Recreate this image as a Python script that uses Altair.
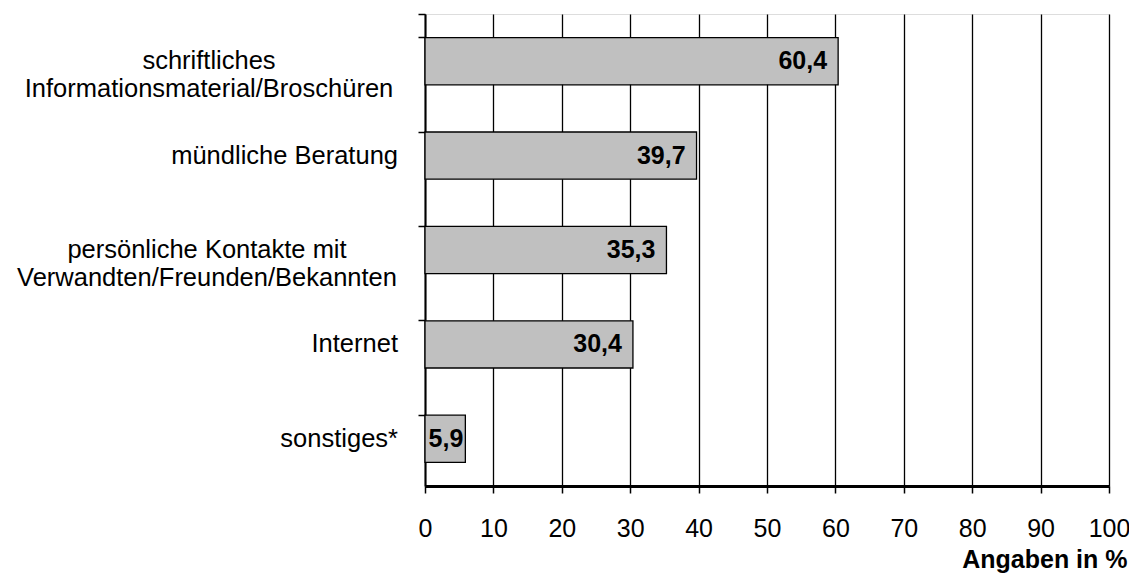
import altair as alt
import pandas as pd

categories = [
    "schriftliches\nInformationsmaterial/Broschüren",
    "mündliche Beratung",
    "persönliche Kontakte mit\nVerwandten/Freunden/Bekannten",
    "Internet",
    "sonstiges*",
]
values = [60.4, 39.7, 35.3, 30.4, 5.9]
value_labels = ["60,4", "39,7", "35,3", "30,4", "5,9"]
x_ticks = list(range(0, 101, 10))

df = pd.DataFrame({"cat": categories, "value": values, "label": value_labels})

FONT = "Liberation Sans"

y_enc = alt.Y(
    "cat:N",
    sort=categories,
    scale=alt.Scale(paddingInner=0.5, paddingOuter=0.25),
    axis=alt.Axis(
        labels=False, title=None, grid=False,
        bandPosition=0, tickExtra=True,
        ticks=True, tickSize=7, tickColor="black", tickWidth=1.5,
        domainColor="black", domainWidth=2,
    ),
)
x_enc = alt.X(
    "value:Q",
    scale=alt.Scale(domain=[0, 100], nice=False, zero=True),
    axis=alt.Axis(
        values=x_ticks, grid=True, gridColor="black", gridWidth=1.3,
        tickSize=7, tickColor="black", tickWidth=1.5,
        domainColor="black", domainWidth=3,
        labelFontSize=25, labelColor="black", labelFont=FONT, labelPadding=23,
        labelFlush=False,
        title="Angaben in %", titleFont=FONT, titleFontSize=25, titleFontWeight="bold",
        titleColor="black", titleAnchor="end", titleAlign="right",
        titleX=702, titleY=81, titleBaseline="alphabetic",
    ),
)

base = alt.Chart(df)

bars = base.mark_bar(fill="#c0c0c0", stroke="black", strokeWidth=1.3).encode(x=x_enc, y=y_enc)

vals_big = base.transform_filter("datum.value >= 10").mark_text(
    align="right", baseline="middle", dx=-11, fontSize=25, fontWeight="bold", font=FONT, color="black"
).encode(x="value:Q", y=alt.Y("cat:N", sort=categories), text="label:N")

vals_small = base.transform_filter("datum.value < 10").mark_text(
    align="right", baseline="middle", dx=-2, fontSize=25, fontWeight="bold", font=FONT, color="black"
).encode(x="value:Q", y=alt.Y("cat:N", sort=categories), text="label:N")

single = base.transform_filter("indexof(datum.cat, '\\n') < 0").mark_text(
    align="right", baseline="middle", fontSize=25.5, font=FONT, color="black"
).encode(x=alt.value(-27), y=alt.Y("cat:N", sort=categories), text="cat:N")

multi1 = base.transform_filter(alt.datum.cat == categories[0]).mark_text(
    align="center", baseline="middle", fontSize=25.5, font=FONT, color="black",
    lineBreak="\n", lineHeight=28
).encode(x=alt.value(-216), y=alt.Y("cat:N", sort=categories), text="cat:N")

multi2 = base.transform_filter(alt.datum.cat == categories[2]).mark_text(
    align="center", baseline="middle", fontSize=25.5, font=FONT, color="black",
    lineBreak="\n", lineHeight=28
).encode(x=alt.value(-218), y=alt.Y("cat:N", sort=categories), text="cat:N")

chart = alt.layer(bars, vals_big, vals_small, single, multi1, multi2).properties(
    width=684, height=472,
    autosize="none",
    padding={"left": 417, "top": 6, "right": 20, "bottom": 87},
).configure_view(stroke="black", strokeWidth=1.5).configure(font=FONT)

chart.save("out.html", embed_options={"renderer": "svg", "actions": False})
